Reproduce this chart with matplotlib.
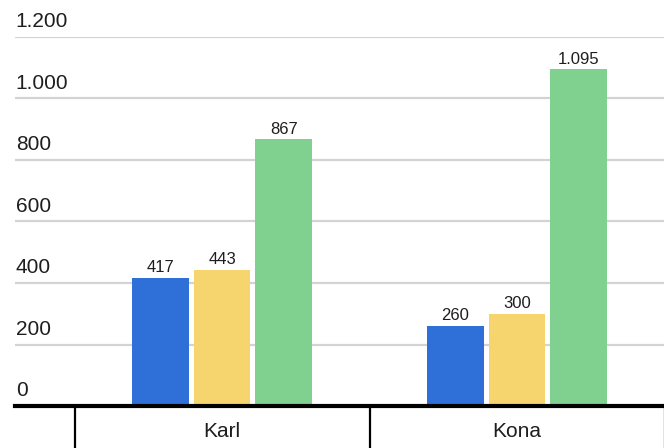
import numpy as np
import matplotlib.pyplot as plt

categories = ['Karl', 'Kona']
series_a = [417, 260]
series_b = [443, 300]
series_c = [867, 1095]
y_ticks = [0, 200, 400, 600, 800, 1000, 1200]
y_tick_labels = ['0', '200', '400', '600', '800', '1.000', '1.200']
value_labels = [['417', '260'], ['443', '300'], ['867', '1.095']]

colors = ['#2F6FD8', '#F6D46E', '#80D08F']

plt.rcParams['font.family'] = ['Liberation Sans', 'DejaVu Sans']

fig = plt.figure(figsize=(6.64, 4.48), dpi=100)
W, H = 664, 448
ax = fig.add_axes([15 / W, 42 / H, (W - 15) / W, 369 / H])

x = np.arange(len(categories))
x_left = -0.7017
ax.set_xlim(x_left, x_left + (W - 15) / 295)
ax.set_ylim(0, 1200)

# Gitterlinien
for t, lab in zip(y_ticks, y_tick_labels):
    if t > 0:
        ax.axhline(t, color='#d3d3d3', linewidth=1.6, zorder=0)
    ax.annotate(lab, xy=(0, t), xycoords=('axes fraction', 'data'),
                xytext=(0.5, 4), textcoords='offset points',
                ha='left', va='bottom', fontsize=15, color='#1e1e1e')

width = 0.193
offsets = [-0.21, 0.0, 0.21]
for k, (vals, col) in enumerate(zip([series_a, series_b, series_c], colors)):
    bars = ax.bar(x + offsets[k], vals, width, color=col, zorder=2)
    for b, lab in zip(bars, value_labels[k]):
        ax.annotate(lab, xy=(b.get_x() + b.get_width() / 2, b.get_height()),
                    xytext=(0, 2), textcoords='offset points',
                    ha='center', va='bottom', fontsize=12, color='#1e1e1e')

# Grundlinie und Trenner
ax.axhline(0, color='black', linewidth=3, zorder=3, clip_on=False)
for sep in [-0.5, 0.5, 1.5]:
    ax.plot([sep, sep], [0, -140], color='black', linewidth=1.6, clip_on=False)
for i, c in enumerate(categories):
    ax.text(i, -84, c, ha='center', va='center', fontsize=15, color='#1e1e1e')

for s in ax.spines.values():
    s.set_visible(False)
ax.set_xticks([])
ax.set_yticks([])

fig.savefig('out.png', dpi=100)
